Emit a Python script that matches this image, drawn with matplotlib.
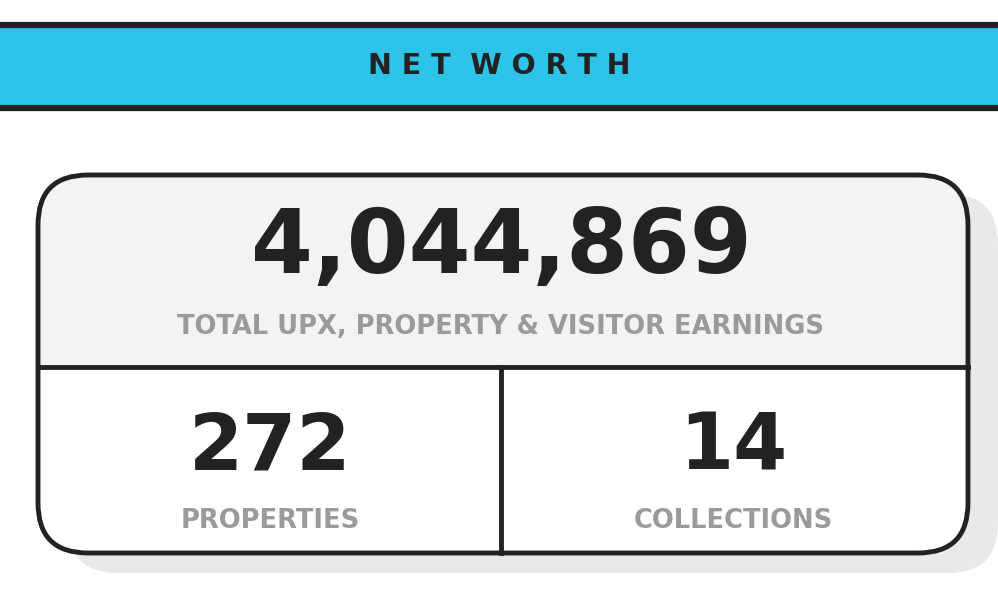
import matplotlib
matplotlib.use("Agg")
import matplotlib.pyplot as plt
from matplotlib.patches import FancyBboxPatch, Rectangle

title = "NET WORTH"
net_worth = 4044869
net_label = "TOTAL UPX, PROPERTY & VISITOR EARNINGS"
stat_values = [272, 14]
stat_labels = ["PROPERTIES", "COLLECTIONS"]

plt.rcParams['font.family'] = ['DejaVu Sans']
fig = plt.figure(figsize=(9.98, 5.89), dpi=100)
ax = fig.add_axes([0, 0, 1, 1])
ax.set_xlim(0, 998); ax.set_ylim(589, 0); ax.axis('off')

dark = '#222222'; grey = '#9a9a9a'
ax.add_patch(Rectangle((-5, 25), 1008, 83, facecolor='#2EC4EA', edgecolor=dark, lw=4.5))
ax.text(499, 66, "  ".join(" ".join(w) for w in title.split()), ha='center', va='center',
        fontsize=20.5, fontweight='bold', color=dark)

ax.add_patch(FancyBboxPatch((68, 194), 930, 379, boxstyle="round,pad=0,rounding_size=50",
                            facecolor='#e9e9e9', edgecolor='none'))
card = FancyBboxPatch((38, 175), 930, 378, boxstyle="round,pad=0,rounding_size=50",
                      facecolor='white', edgecolor='none')
ax.add_patch(card)
top = Rectangle((38, 175), 930, 192, facecolor='#f3f3f3', edgecolor='none')
ax.add_patch(top); top.set_clip_path(card)
ax.plot([38, 968], [367, 367], color=dark, lw=3.5)
ax.plot([501, 501], [367, 553], color=dark, lw=3.5)
ax.add_patch(FancyBboxPatch((38, 175), 930, 378, boxstyle="round,pad=0,rounding_size=50",
                            facecolor='none', edgecolor=dark, lw=3.5))

ax.text(501, 248, f"{net_worth:,}", ha='center', va='center', fontsize=64,
        fontweight='bold', color=dark)
ax.text(501, 327, net_label, ha='center', va='center', fontsize=18.5,
        fontweight='bold', color=grey)
for x, v, l in zip([270, 733], stat_values, stat_labels):
    ax.text(x, 447, str(v), ha='center', va='center', fontsize=56, fontweight='bold', color=dark)
    ax.text(x, 521, l, ha='center', va='center', fontsize=18.5, fontweight='bold', color=grey)

fig.savefig('out.png', dpi=100)
